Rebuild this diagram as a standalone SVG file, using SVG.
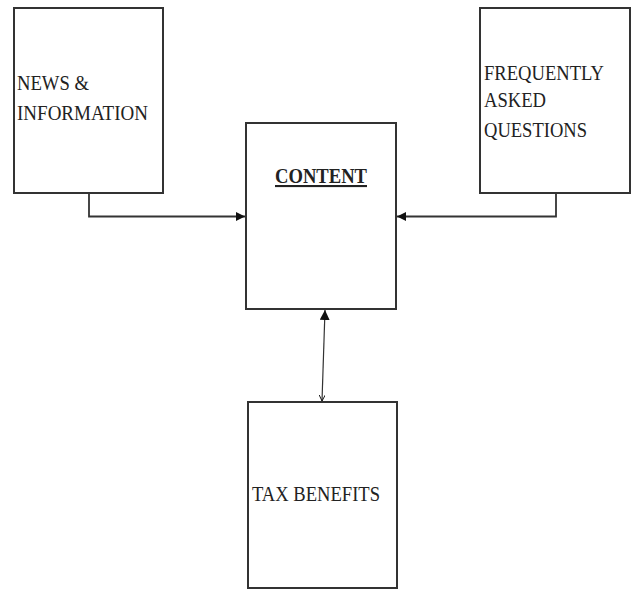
<svg xmlns="http://www.w3.org/2000/svg" width="632" height="590" viewBox="0 0 632 590">
<style>
.box{fill:#fff;stroke:#333;stroke-width:2}
.lbl{font-family:"Liberation Serif","Times New Roman",serif;font-size:21px;fill:#222}
.conn{fill:none;stroke:#333;stroke-width:1.8}
.thin{fill:none;stroke:#333;stroke-width:1.2}
</style>
<defs>
<marker id="ah" viewBox="0 0 10 10" refX="10" refY="5" markerWidth="5" markerHeight="5" orient="auto"><path d="M0,0 L10,5 L0,10 z" fill="#111"/></marker>
<marker id="big" viewBox="0 0 10 10" refX="10" refY="5" markerWidth="10" markerHeight="10" markerUnits="userSpaceOnUse" orient="auto"><path d="M0,0 L10,5 L0,10 z" fill="#111"/></marker>
<marker id="small" viewBox="0 0 10 10" refX="10" refY="5" markerWidth="6" markerHeight="6" markerUnits="userSpaceOnUse" orient="auto-start-reverse"><path d="M0,0 L10,5 L0,10" fill="none" stroke="#111" stroke-width="1.6"/></marker>
</defs>
<rect width="632" height="590" fill="#fff"/>
<g id="connectors">
<path class="conn" d="M89,193 V216.5 H245" marker-end="url(#ah)"/>
<path class="conn" d="M556,193 V216.5 H397" marker-end="url(#ah)"/>
<line class="thin" x1="322" y1="401" x2="325" y2="310" marker-end="url(#big)" marker-start="url(#small)"/>
</g>
<g id="news">
<rect class="box" x="14" y="8" width="149" height="185"/>
<text class="lbl" x="17" y="90" textLength="72" lengthAdjust="spacingAndGlyphs">NEWS &amp;</text>
<text class="lbl" x="17" y="120" textLength="131" lengthAdjust="spacingAndGlyphs">INFORMATION</text>
</g>
<g id="faq">
<rect class="box" x="480" y="8" width="150" height="185"/>
<text class="lbl" x="484" y="80" textLength="120" lengthAdjust="spacingAndGlyphs">FREQUENTLY</text>
<text class="lbl" x="484" y="107" textLength="62" lengthAdjust="spacingAndGlyphs">ASKED</text>
<text class="lbl" x="484" y="137" textLength="103" lengthAdjust="spacingAndGlyphs">QUESTIONS</text>
</g>
<g id="content">
<rect class="box" x="246" y="123" width="150" height="186"/>
<text class="lbl" x="275" y="183" font-weight="bold" textLength="92" lengthAdjust="spacingAndGlyphs" text-decoration="underline">CONTENT</text>
</g>
<g id="tax">
<rect class="box" x="248" y="402" width="149" height="186"/>
<text class="lbl" x="252" y="501" textLength="128" lengthAdjust="spacingAndGlyphs">TAX BENEFITS</text>
</g>
</svg>
